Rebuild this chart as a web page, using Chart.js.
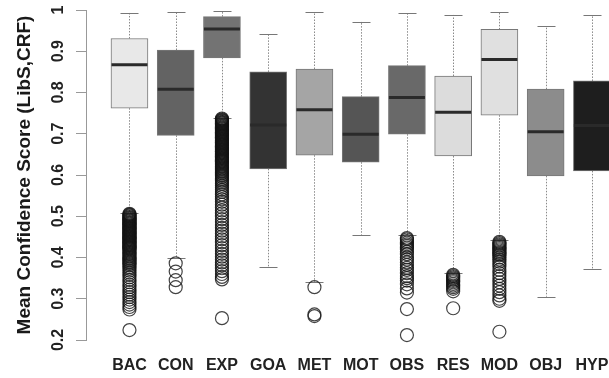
<!DOCTYPE html>
<html>
<head>
<meta charset="utf-8">
<script src="https://cdn.jsdelivr.net/npm/chart.js@4"></script>
<style>
  body { margin: 0; background: #fff; }
  #wrap { width: 609px; height: 378px; }
</style>
</head>
<body>
<div id="wrap"><canvas id="boxChart"></canvas></div>
<script>
const categories = ["BAC", "CON", "EXP", "GOA", "MET", "MOT", "OBS", "RES", "MOD", "OBJ", "HYP"];
const q1 = [0.762, 0.696, 0.884, 0.615, 0.648, 0.631, 0.699, 0.646, 0.745, 0.598, 0.610];
const q3 = [0.931, 0.903, 0.984, 0.850, 0.857, 0.790, 0.865, 0.840, 0.953, 0.808, 0.828];
const medians = [0.867, 0.808, 0.954, 0.721, 0.758, 0.699, 0.788, 0.752, 0.880, 0.705, 0.720];
const whiskerLow = [0.508, 0.400, 0.737, 0.378, 0.340, 0.455, 0.455, 0.362, 0.442, 0.305, 0.372];
const whiskerHigh = [0.993, 0.994, 0.998, 0.943, 0.994, 0.972, 0.992, 0.988, 0.996, 0.961, 0.988];
const yTicks = [0.2, 0.3, 0.4, 0.5, 0.6, 0.7, 0.8, 0.9, 1];

const outBAC = [0.506, 0.504, 0.502, 0.5, 0.498, 0.496, 0.494, 0.492, 0.49, 0.488, 0.486, 0.484,
  0.482, 0.48, 0.478, 0.476, 0.474, 0.472, 0.47, 0.468, 0.466, 0.464, 0.462, 0.46, 0.458, 0.456,
  0.454, 0.452, 0.45, 0.448, 0.446, 0.444, 0.442, 0.44, 0.438, 0.436, 0.434, 0.432, 0.43, 0.428,
  0.426, 0.424, 0.422, 0.42, 0.417, 0.414, 0.411, 0.408, 0.405, 0.402, 0.399, 0.396, 0.393, 0.39,
  0.387, 0.384, 0.381, 0.377, 0.373, 0.368, 0.363, 0.358, 0.352, 0.346, 0.34, 0.334, 0.328, 0.322,
  0.316, 0.31, 0.304, 0.298, 0.292, 0.286, 0.28, 0.274, 0.224];
const outCON = [0.386, 0.366, 0.345, 0.328];
const outEXP = [0.737, 0.735, 0.733, 0.731, 0.729, 0.727, 0.725, 0.723, 0.721, 0.719, 0.717, 0.715,
  0.713, 0.711, 0.709, 0.707, 0.705, 0.703, 0.701, 0.699, 0.697, 0.695, 0.693, 0.691, 0.689, 0.687,
  0.685, 0.683, 0.681, 0.679, 0.677, 0.675, 0.673, 0.671, 0.669, 0.667, 0.665, 0.663, 0.661, 0.659,
  0.657, 0.655, 0.653, 0.651, 0.649, 0.647, 0.645, 0.643, 0.641, 0.639, 0.637, 0.635, 0.633, 0.631,
  0.628, 0.625, 0.622, 0.619, 0.616, 0.613, 0.61, 0.607, 0.604, 0.601, 0.598, 0.595, 0.591, 0.587,
  0.583, 0.579, 0.574, 0.569, 0.564, 0.559, 0.553, 0.547, 0.541, 0.535, 0.528, 0.521, 0.514, 0.507,
  0.5, 0.493, 0.486, 0.479, 0.472, 0.465, 0.458, 0.451, 0.444, 0.437, 0.43, 0.423, 0.416, 0.409,
  0.402, 0.395, 0.388, 0.381, 0.374, 0.367, 0.36, 0.353, 0.347, 0.253];
const outGOA = [];
const outMET = [0.328, 0.262, 0.258];
const outMOT = [];
const outOBS = [0.447, 0.444, 0.44, 0.436, 0.432, 0.428, 0.424, 0.42, 0.414, 0.408, 0.4, 0.395,
  0.388, 0.382, 0.375, 0.37, 0.362, 0.355, 0.35, 0.344, 0.335, 0.325, 0.315, 0.275, 0.212];
const outRES = [0.358, 0.355, 0.352, 0.349, 0.346, 0.343, 0.34, 0.336, 0.332, 0.328, 0.324, 0.318, 0.277];
const outMOD = [0.438, 0.435, 0.432, 0.429, 0.426, 0.423, 0.42, 0.417, 0.414, 0.411, 0.408, 0.405,
  0.4, 0.395, 0.39, 0.384, 0.378, 0.37, 0.362, 0.355, 0.348, 0.34, 0.332, 0.324, 0.316, 0.308,
  0.3, 0.295, 0.22];
const outOBJ = [];
const outHYP = [];
const outliers = [outBAC, outCON, outEXP, outGOA, outMET, outMOT, outOBS, outRES, outMOD, outOBJ, outHYP];

const boxColors = ["#e8e8e8", "#636363", "#737373", "#333333", "#a5a5a5", "#555555",
  "#696969", "#dcdcdc", "#e0e0e0", "#8c8c8c", "#1e1e1e"];

Chart.defaults.font.family = "'Liberation Sans', Arial, sans-serif";

const boxPoints = categories.map((c, i) => ({ x: i, y: [q1[i], q3[i]] }));
const outlierPoints = [];
outliers.forEach((list, i) => list.forEach(v => outlierPoints.push({ x: i, y: v })));

// whiskers behind the boxes, medians on top, y labels rotated like R
const boxExtras = {
  id: "boxExtras",
  beforeDatasetsDraw(chart) {
    const { ctx, scales: { x, y } } = chart;
    ctx.save();
    categories.forEach((c, i) => {
      const cx = Math.round(x.getPixelForValue(i)) + 0.5;
      ctx.strokeStyle = "#8a8a8a";
      ctx.lineWidth = 1;
      ctx.setLineDash([1.5, 1.5]);
      ctx.beginPath();
      ctx.moveTo(cx, y.getPixelForValue(q3[i]));
      ctx.lineTo(cx, y.getPixelForValue(whiskerHigh[i]));
      ctx.moveTo(cx, y.getPixelForValue(q1[i]));
      ctx.lineTo(cx, y.getPixelForValue(whiskerLow[i]));
      ctx.stroke();
      ctx.setLineDash([]);
      ctx.strokeStyle = "#777";
      ctx.beginPath();
      [whiskerHigh[i], whiskerLow[i]].forEach(v => {
        const py = Math.round(y.getPixelForValue(v)) + 0.5;
        ctx.moveTo(cx - 9, py);
        ctx.lineTo(cx + 9, py);
      });
      ctx.stroke();
    });
    ctx.restore();
  },
  afterDatasetsDraw(chart) {
    const { ctx, scales: { x, y } } = chart;
    ctx.save();
    ctx.strokeStyle = "#2a2a2a";
    ctx.lineWidth = 3;
    categories.forEach((c, i) => {
      const cx = x.getPixelForValue(i);
      const py = y.getPixelForValue(medians[i]);
      ctx.beginPath();
      ctx.moveTo(cx - 18, py);
      ctx.lineTo(cx + 18, py);
      ctx.stroke();
    });
    ctx.fillStyle = "#222";
    ctx.font = "bold 16px 'Liberation Sans', Arial, sans-serif";
    ctx.textAlign = "center";
    ctx.textBaseline = "middle";
    yTicks.forEach(v => {
      ctx.save();
      ctx.translate(59, y.getPixelForValue(v));
      ctx.rotate(-Math.PI / 2);
      ctx.fillText(String(v), 0, 0);
      ctx.restore();
    });
    ctx.restore();
  }
};

const ctx = document.getElementById("boxChart").getContext("2d");
new Chart(ctx, {
  type: "bar",
  data: {
    datasets: [
      {
        type: "line",
        data: outlierPoints,
        showLine: false,
        pointRadius: 6.5,
        pointBorderWidth: 1.2,
        pointBorderColor: "rgba(20, 20, 20, 0.8)",
        pointBackgroundColor: "rgba(0, 0, 0, 0)",
        clip: false,
        order: 1,
      },
      {
        type: "bar",
        data: boxPoints,
        backgroundColor: boxColors,
        borderColor: "#777",
        borderWidth: 1,
        borderSkipped: false,
        barThickness: 37,
        clip: false,
        order: 2,
      },
    ],
  },
  options: {
    responsive: true,
    maintainAspectRatio: false,
    animation: false,
    layout: { autoPadding: false, padding: { top: 10, right: 0, bottom: 0, left: 0 } },
    plugins: {
      legend: { display: false },
      tooltip: { enabled: false },
    },
    scales: {
      x: {
        type: "linear",
        offset: false,
        min: -0.94,
        max: 10.37,
        grid: { display: false, drawTicks: false, offset: false },
        border: { display: false },
        afterBuildTicks: axis => {
          axis.ticks = categories.map((c, i) => ({ value: i }));
        },
        afterFit: axis => {
          axis.height = 38;
          axis.paddingLeft = 0;
          axis.paddingRight = 0;
        },
        ticks: {
          autoSkip: false,
          maxRotation: 0,
          padding: 16,
          color: "#222",
          font: { size: 16, weight: "bold" },
          callback: v => categories[v],
        },
      },
      y: {
        min: 0.2,
        max: 1,
        afterBuildTicks: axis => {
          axis.ticks = yTicks.map(v => ({ value: v }));
        },
        afterFit: axis => {
          axis.width = 86;
        },
        ticks: { display: false },
        grid: {
          display: true,
          drawOnChartArea: false,
          drawTicks: true,
          tickLength: 10,
          color: "#999",
        },
        border: { display: true, color: "#999" },
        title: {
          display: true,
          text: "Mean Confidence Score (LibS,CRF)",
          color: "#1a1a1a",
          font: { size: 19, weight: "bold" },
          padding: { top: 13, bottom: 0 },
        },
      },
    },
  },
  plugins: [boxExtras],
});
</script>
</body>
</html>
